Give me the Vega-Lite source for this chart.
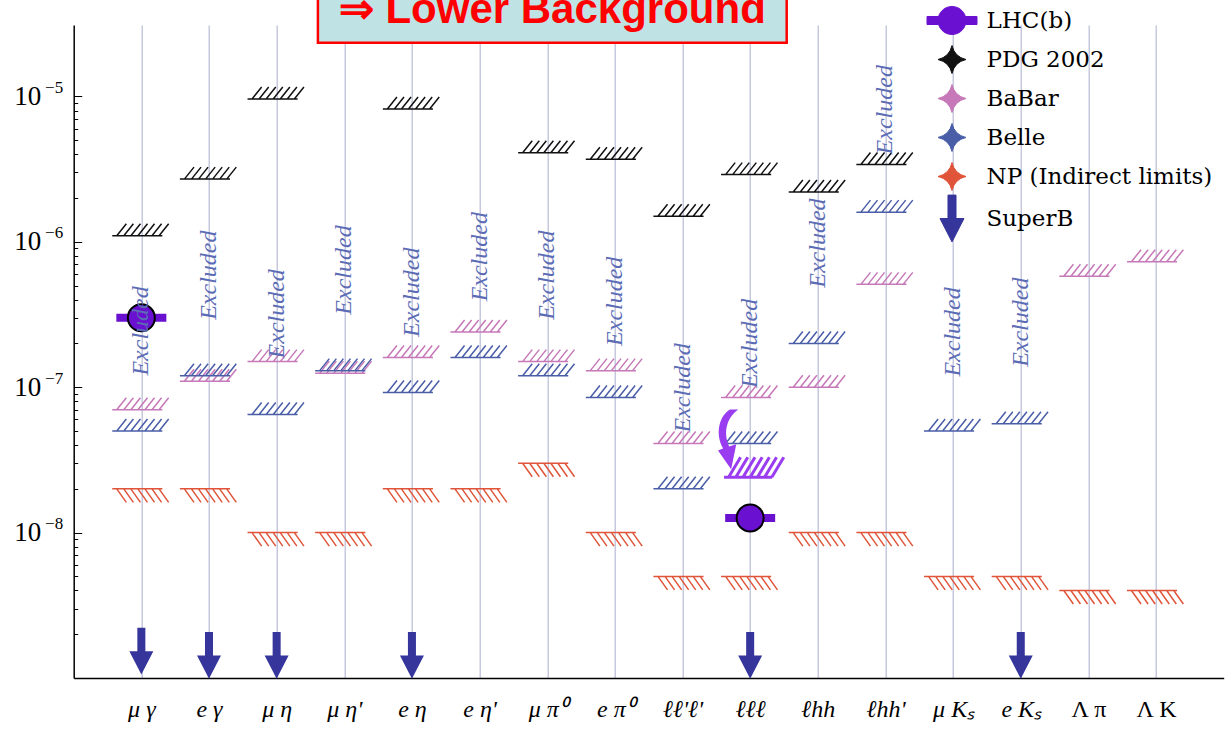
{
  "$schema": "https://vega.github.io/schema/vega-lite/v6.json",
  "width": 1150,
  "height": 653,
  "autosize": {"type": "none"},
  "padding": {"left": 73.7, "top": 25, "right": 2.3, "bottom": 56},
  "background": "white",
  "config": {"view": {"stroke": null}},
  "datasets": {
    "limits": [
      {"col": 1, "series": "PDG 2002", "kind": "upper", "value": 1.1e-6},
      {"col": 2, "series": "PDG 2002", "kind": "upper", "value": 2.7e-6},
      {"col": 3, "series": "PDG 2002", "kind": "upper", "value": 9.6e-6},
      {"col": 5, "series": "PDG 2002", "kind": "upper", "value": 8.2e-6},
      {"col": 7, "series": "PDG 2002", "kind": "upper", "value": 4.1e-6},
      {"col": 8, "series": "PDG 2002", "kind": "upper", "value": 3.7e-6},
      {"col": 9, "series": "PDG 2002", "kind": "upper", "value": 1.5e-6},
      {"col": 10, "series": "PDG 2002", "kind": "upper", "value": 2.9e-6},
      {"col": 11, "series": "PDG 2002", "kind": "upper", "value": 2.2e-6},
      {"col": 12, "series": "PDG 2002", "kind": "upper", "value": 3.4e-6},
      {"col": 1, "series": "BaBar", "kind": "upper", "value": 7e-8},
      {"col": 2, "series": "BaBar", "kind": "upper", "value": 1.1e-7},
      {"col": 3, "series": "BaBar", "kind": "upper", "value": 1.5e-7},
      {"col": 4, "series": "BaBar", "kind": "upper", "value": 1.25e-7},
      {"col": 5, "series": "BaBar", "kind": "upper", "value": 1.6e-7},
      {"col": 6, "series": "BaBar", "kind": "upper", "value": 2.4e-7},
      {"col": 7, "series": "BaBar", "kind": "upper", "value": 1.5e-7},
      {"col": 8, "series": "BaBar", "kind": "upper", "value": 1.3e-7},
      {"col": 9, "series": "BaBar", "kind": "upper", "value": 4.1e-8},
      {"col": 10, "series": "BaBar", "kind": "upper", "value": 8.5e-8},
      {"col": 11, "series": "BaBar", "kind": "upper", "value": 1e-7},
      {"col": 12, "series": "BaBar", "kind": "upper", "value": 5.1e-7},
      {"col": 15, "series": "BaBar", "kind": "upper", "value": 5.8e-7},
      {"col": 16, "series": "BaBar", "kind": "upper", "value": 7.3e-7},
      {"col": 1, "series": "Belle", "kind": "upper", "value": 5e-8},
      {"col": 2, "series": "Belle", "kind": "upper", "value": 1.2e-7},
      {"col": 3, "series": "Belle", "kind": "upper", "value": 6.5e-8},
      {"col": 4, "series": "Belle", "kind": "upper", "value": 1.3e-7},
      {"col": 5, "series": "Belle", "kind": "upper", "value": 9.2e-8},
      {"col": 6, "series": "Belle", "kind": "upper", "value": 1.6e-7},
      {"col": 7, "series": "Belle", "kind": "upper", "value": 1.2e-7},
      {"col": 8, "series": "Belle", "kind": "upper", "value": 8.5e-8},
      {"col": 9, "series": "Belle", "kind": "upper", "value": 2e-8},
      {"col": 10, "series": "Belle", "kind": "upper", "value": 4.1e-8},
      {"col": 11, "series": "Belle", "kind": "upper", "value": 2e-7},
      {"col": 12, "series": "Belle", "kind": "upper", "value": 1.6e-6},
      {"col": 13, "series": "Belle", "kind": "upper", "value": 5e-8},
      {"col": 14, "series": "Belle", "kind": "upper", "value": 5.6e-8},
      {"col": 1, "series": "NP (Indirect limits)", "kind": "lower", "value": 2e-8},
      {"col": 2, "series": "NP (Indirect limits)", "kind": "lower", "value": 2e-8},
      {"col": 3, "series": "NP (Indirect limits)", "kind": "lower", "value": 1e-8},
      {"col": 4, "series": "NP (Indirect limits)", "kind": "lower", "value": 1e-8},
      {"col": 5, "series": "NP (Indirect limits)", "kind": "lower", "value": 2e-8},
      {"col": 6, "series": "NP (Indirect limits)", "kind": "lower", "value": 2e-8},
      {"col": 7, "series": "NP (Indirect limits)", "kind": "lower", "value": 3e-8},
      {"col": 8, "series": "NP (Indirect limits)", "kind": "lower", "value": 1e-8},
      {"col": 9, "series": "NP (Indirect limits)", "kind": "lower", "value": 5e-9},
      {"col": 10, "series": "NP (Indirect limits)", "kind": "lower", "value": 5e-9},
      {"col": 11, "series": "NP (Indirect limits)", "kind": "lower", "value": 1e-8},
      {"col": 12, "series": "NP (Indirect limits)", "kind": "lower", "value": 1e-8},
      {"col": 13, "series": "NP (Indirect limits)", "kind": "lower", "value": 5e-9},
      {"col": 14, "series": "NP (Indirect limits)", "kind": "lower", "value": 5e-9},
      {"col": 15, "series": "NP (Indirect limits)", "kind": "lower", "value": 4e-9},
      {"col": 16, "series": "NP (Indirect limits)", "kind": "lower", "value": 4e-9}
    ],
    "excluded": [
      {"col": 1, "value": 2.44e-7, "label": "Excluded"},
      {"col": 2, "value": 5.9e-7, "label": "Excluded"},
      {"col": 3, "value": 3.2e-7, "label": "Excluded"},
      {"col": 4, "value": 6.4e-7, "label": "Excluded"},
      {"col": 5, "value": 4.5e-7, "label": "Excluded"},
      {"col": 6, "value": 7.9e-7, "label": "Excluded"},
      {"col": 7, "value": 5.9e-7, "label": "Excluded"},
      {"col": 8, "value": 3.9e-7, "label": "Excluded"},
      {"col": 9, "value": 9.9e-8, "label": "Excluded"},
      {"col": 10, "value": 2.0e-7, "label": "Excluded"},
      {"col": 11, "value": 9.8e-7, "label": "Excluded"},
      {"col": 12, "value": 8.1e-6, "label": "Excluded"},
      {"col": 13, "value": 2.4e-7, "label": "Excluded"},
      {"col": 14, "value": 2.8e-7, "label": "Excluded"}
    ],
    "superb": [
      {"col": 1, "series": "SuperB", "value": 1.53e-9},
      {"col": 2, "series": "SuperB", "value": 1.43e-9},
      {"col": 3, "series": "SuperB", "value": 1.43e-9},
      {"col": 5, "series": "SuperB", "value": 1.43e-9},
      {"col": 10, "series": "SuperB", "value": 1.43e-9},
      {"col": 14, "series": "SuperB", "value": 1.43e-9}
    ],
    "lhcb": [
      {"col": 1, "series": "LHC(b)", "value": 3.0e-7},
      {"col": 10, "series": "LHC(b)", "value": 1.26e-8}
    ],
    "title": [
      {"label": "⇒ Lower Background"}
    ]
  },
  "resolve": {"scale": {"y": "independent"}, "axis": {"y": "independent"}},
  "layer": [
    {
      "layer": [
        {
          "data": {"name": "limits"},
          "transform": [{"filter": "datum.kind === 'upper'"}],
          "mark": {"type": "point", "filled": false, "strokeWidth": 1.5, "opacity": 1, "size": 3600,
            "shape": "M-0.97,0L0.7,0M-0.82,0L-0.5,-0.4M-0.585,0L-0.265,-0.4M-0.35,0L-0.03,-0.4M-0.115,0L0.205,-0.4M0.12,0L0.44,-0.4M0.355,0L0.675,-0.4M0.59,0L0.91,-0.4"},
          "encoding": {
            "x": {
              "field": "col", "type": "quantitative", "title": null,
              "scale": {"domain": [0, 17], "nice": false, "zero": false},
              "axis": {
                "values": [1, 2, 3, 4, 5, 6, 7, 8, 9, 10, 11, 12, 13, 14, 15, 16],
                "labelExpr": "['', 'μ γ', 'e γ', 'μ η', 'μ η\\'', 'e η', 'e η\\'', 'μ π⁰', 'e π⁰', 'ℓℓ\\'ℓ\\'', 'ℓℓℓ', 'ℓhh', 'ℓhh\\'', 'μ Kₛ', 'e Kₛ', 'Λ π', 'Λ K'][datum.value]",
                "labelFont": "Liberation Serif", "labelFontSize": 24, "labelColor": "black",
                "labelFontStyle": {"condition": {"test": "datum.value >= 15", "value": "normal"}, "value": "italic"},
                "labelPadding": 19, "labelOverlap": false, "labelFlush": false,
                "ticks": false, "domainColor": "black", "domainWidth": 1.5,
                "grid": true, "gridColor": "#b8bad6", "gridWidth": 1.2
              }
            },
            "y": {
              "field": "value", "type": "quantitative", "title": null,
              "scale": {"type": "log", "domain": [1e-9, 3.1e-5], "nice": false},
              "axis": {
                "orient": "left",
                "values": [2e-9, 3e-9, 4e-9, 5e-9, 6e-9, 7e-9, 8e-9, 9e-9, 1e-8, 2e-8, 3e-8, 4e-8, 5e-8, 6e-8, 7e-8, 8e-8, 9e-8, 1e-7, 2e-7, 3e-7, 4e-7, 5e-7, 6e-7, 7e-7, 8e-7, 9e-7, 1e-6, 2e-6, 3e-6, 4e-6, 5e-6, 6e-6, 7e-6, 8e-6, 9e-6, 1e-5],
                "labelExpr": "(abs(log(datum.value)/LN10 - round(log(datum.value)/LN10)) < 0.001 && datum.value > 2e-9) ? '10' : ''",
                "labelFont": "Liberation Serif", "labelFontSize": 27, "labelColor": "black",
                "labelOverlap": false, "labelFlush": false, "labelPadding": 41,
                "tickColor": "black", "tickWidth": 1,
                "tickSize": {"condition": {"test": "abs(log(datum.value)/LN10 - round(log(datum.value)/LN10)) < 0.001", "value": -8}, "value": -4},
                "domainColor": "black", "domainWidth": 1.5, "grid": false
              }
            },
            "color": {
              "field": "series", "type": "nominal",
              "scale": {"domain": ["LHC(b)", "PDG 2002", "BaBar", "Belle", "NP (Indirect limits)", "SuperB"], "range": ["#6a10d0", "#111111", "#c678b8", "#4a5ea8", "#e0553a", "#35359c"]},
              "legend": {
                "orient": "none", "legendX": 858.8, "legendY": -27.5, "title": null,
                "padding": 0, "rowPadding": 0, "symbolSize": 2025, "symbolStrokeWidth": 1, "symbolOffset": -3.5,
                "labelOffset": 11.5, "labelFont": "DejaVu Serif", "labelFontSize": 23, "labelLimit": 400,
                "encode": {
                  "symbols": {"update": {
                    "fill": {"signal": "scale('color', datum.value)"},
                    "stroke": {"signal": "datum.value === 'LHC(b)' ? 'black' : 'transparent'"},
                    "strokeWidth": {"value": 1},
                    "opacity": {"value": 1}
                  }},
                  "labels": {"update": {
                    "fill": {"signal": "datum.value === 'LHC(b)' ? '#7d22e6' : scale('color', datum.value)"},
                    "font": {"signal": "datum.value === 'LHC(b)' || datum.value === 'SuperB' ? 'Liberation Sans' : 'DejaVu Serif'"},
                    "fontSize": {"signal": "datum.value === 'LHC(b)' || datum.value === 'SuperB' ? 30 : 23"}
                  }}
                }
              }
            }
          }
        },
        {
          "data": {"name": "limits"},
          "transform": [{"filter": "datum.kind === 'lower'"}],
          "mark": {"type": "point", "filled": false, "strokeWidth": 1.5, "opacity": 1, "size": 3600,
            "shape": "M-0.97,0L0.7,0M-0.82,0L-0.5,0.45M-0.585,0L-0.265,0.45M-0.35,0L-0.03,0.45M-0.115,0L0.205,0.45M0.12,0L0.44,0.45M0.355,0L0.675,0.45M0.59,0L0.91,0.45"},
          "encoding": {
            "x": {"field": "col", "type": "quantitative", "title": null},
            "y": {"field": "value", "type": "quantitative", "title": null},
            "color": {"field": "series", "type": "nominal"}
          }
        },
        {
          "data": {"name": "superb"},
          "mark": {"type": "point", "filled": true, "opacity": 1, "strokeWidth": 0, "size": 2025},
          "encoding": {
            "x": {"field": "col", "type": "quantitative", "title": null},
            "y": {"field": "value", "type": "quantitative", "title": null},
            "color": {"field": "series", "type": "nominal"},
            "shape": {
              "field": "series", "type": "nominal",
              "scale": {"domain": ["LHC(b)", "PDG 2002", "BaBar", "Belle", "NP (Indirect limits)", "SuperB"], "range": [
                "M-1.111,-0.178L-0.596,-0.178A0.622,0.622 0 0,1 0.596,-0.178L1.111,-0.178L1.111,0.178L0.596,0.178A0.622,0.622 0 0,1 -0.596,0.178L-1.111,0.178Z",
                "M0,-0.622Q0.116,-0.116 0.622,0Q0.116,0.116 0,0.622Q-0.116,0.116 -0.622,0Q-0.116,-0.116 0,-0.622Z",
                "M0,-0.622Q0.116,-0.116 0.622,0Q0.116,0.116 0,0.622Q-0.116,0.116 -0.622,0Q-0.116,-0.116 0,-0.622Z",
                "M0,-0.622Q0.116,-0.116 0.622,0Q0.116,0.116 0,0.622Q-0.116,0.116 -0.622,0Q-0.116,-0.116 0,-0.622Z",
                "M0,-0.622Q0.116,-0.116 0.622,0Q0.116,0.116 0,0.622Q-0.116,0.116 -0.622,0Q-0.116,-0.116 0,-0.622Z",
                "M-0.178,-1.04L0.178,-1.04L0.178,0L0.533,0L0,1.04L-0.533,0L-0.178,0Z"
              ]},
              "legend": {
                "orient": "none", "legendX": 858.8, "legendY": -27.5, "title": null,
                "padding": 0, "rowPadding": 0, "symbolSize": 2025, "symbolStrokeWidth": 1, "symbolOffset": -3.5,
                "labelOffset": 11.5, "labelFont": "DejaVu Serif", "labelFontSize": 23, "labelLimit": 400
              }
            }
          }
        },
        {
          "data": {"name": "lhcb"},
          "mark": {"type": "point", "filled": true, "opacity": 1, "strokeWidth": 0, "size": 2500, "shape": "M-1,-0.16L1,-0.16L1,0.16L-1,0.16Z"},
          "encoding": {
            "x": {"field": "col", "type": "quantitative", "title": null},
            "y": {"field": "value", "type": "quantitative", "title": null},
            "color": {"field": "series", "type": "nominal"}
          }
        },
        {
          "data": {"name": "lhcb"},
          "mark": {"type": "point", "filled": true, "opacity": 1, "shape": "circle", "stroke": "black", "strokeWidth": 2, "size": 729},
          "encoding": {
            "x": {"field": "col", "type": "quantitative", "title": null},
            "y": {"field": "value", "type": "quantitative", "title": null},
            "color": {"field": "series", "type": "nominal"}
          }
        },
        {
          "data": {"values": [{"col": 10, "value": 2.4e-8}]},
          "mark": {"type": "point", "filled": false, "opacity": 1, "color": "#9a3cf0", "strokeWidth": 3, "size": 3600, "shape": "M-0.87,0L0.73,0M-0.72,0L-0.32,-0.67M-0.48,0L-0.08,-0.67M-0.24,0L0.16,-0.67M0,0L0.4,-0.67M0.24,0L0.64,-0.67M0.48,0L0.88,-0.67M0.72,0L1.12,-0.67"},
          "encoding": {
            "x": {"field": "col", "type": "quantitative", "title": null},
            "y": {"field": "value", "type": "quantitative", "title": null}
          }
        },
        {
          "data": {"values": [{"col": 10, "value": 4.3e-8}]},
          "mark": {"type": "point", "filled": true, "opacity": 1, "color": "#9a3cf0", "strokeWidth": 0, "size": 4096, "shape": "M-0.625,-0.97L-0.375,-0.97C-0.685,-0.75 -0.875,-0.31 -0.655,0.19L-0.435,0.12L-0.595,0.9L-1.005,0.31L-0.845,0.25C-1.125,-0.25 -0.935,-0.81 -0.625,-0.97Z"},
          "encoding": {
            "x": {"field": "col", "type": "quantitative", "title": null},
            "y": {"field": "value", "type": "quantitative", "title": null}
          }
        },
        {
          "data": {"name": "title"},
          "mark": {"type": "rect", "fill": "#bfe2e5", "stroke": "#ff0000", "strokeWidth": 2.5},
          "encoding": {
            "x": {"datum": 3.61, "type": "quantitative", "title": null},
            "x2": {"datum": 10.54},
            "y": {"datum": 2.34e-5, "type": "quantitative", "title": null},
            "y2": {"datum": 1e-4}
          }
        },
        {
          "data": {"name": "title"},
          "mark": {"type": "text", "color": "#ff0000", "font": "Liberation Sans", "fontWeight": "bold", "fontSize": 42, "align": "center", "baseline": "alphabetic"},
          "encoding": {
            "x": {"datum": 7.075, "type": "quantitative", "title": null},
            "y": {"datum": 3.18e-5, "type": "quantitative", "title": null},
            "text": {"field": "label"}
          }
        }
      ]
    },
    {
      "data": {"name": "excluded"},
      "mark": {"type": "text", "angle": 270, "align": "center", "baseline": "middle", "font": "Liberation Serif", "fontStyle": "italic", "fontSize": 24, "color": "#5b6cb5"},
      "encoding": {
        "x": {"field": "col", "type": "quantitative", "title": null},
        "y": {
          "field": "value", "type": "quantitative", "title": null,
          "scale": {"type": "log", "domain": [1e-9, 3.1e-5], "nice": false},
          "axis": {
            "orient": "left",
            "values": [1e-8, 1e-7, 1e-6, 1e-5],
            "labelExpr": "'−' + (-round(log(datum.value)/LN10))",
            "labelFont": "Liberation Serif", "labelFontSize": 17, "labelColor": "black",
            "labelOverlap": false, "labelFlush": false, "labelPadding": 11, "labelOffset": -9,
            "ticks": false, "domain": false, "grid": false
          }
        },
        "text": {"field": "label"}
      }
    }
  ]
}
